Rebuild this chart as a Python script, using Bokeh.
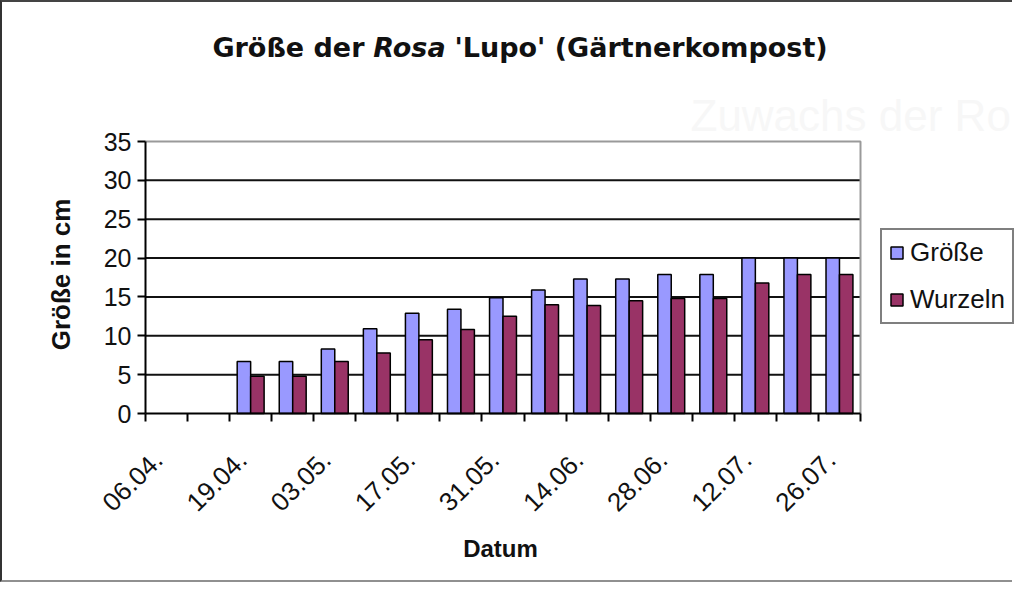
import math
from bokeh.plotting import figure
from bokeh.models import (ColumnDataSource, Range1d, FixedTicker, Label, Legend, LegendItem)
from bokeh.embed import file_html
from bokeh.resources import INLINE

# ---- data ----
dates = ["06.04.", "12.04.", "19.04.", "26.04.", "03.05.", "10.05.", "17.05.", "24.05.", "31.05.",
         "07.06.", "14.06.", "21.06.", "28.06.", "05.07.", "12.07.", "19.07.", "26.07."]
groesse = [None, None, 6.7, 6.7, 8.3, 10.9, 12.9, 13.4, 14.9, 15.9, 17.3, 17.3, 17.9, 17.9, 20, 20, 20]
wurzeln = [None, None, 4.8, 4.8, 6.7, 7.8, 9.5, 10.8, 12.5, 14.0, 13.9, 14.5, 14.8, 14.8, 16.8, 17.9, 17.9]
series_names = ["Größe", "Wurzeln"]
series_colors = ["#9999FF", "#993366"]
y_ticks = [0, 5, 10, 15, 20, 25, 30, 35]

# ---- layout (canvas px) ----
U = 10                       # data units per category
NX = U * len(dates)          # x extent of the plot area
YMAX = 35
W, H = 1012, 582
AX_L, AX_R, AX_T, AX_B = 143, 858, 139, 411   # plot area in canvas px

kx = (AX_R - AX_L) / NX
ky = (AX_B - AX_T) / YMAX

p = figure(width=W, height=H, output_backend="svg", toolbar_location=None,
           x_range=Range1d(-AX_L / kx, NX + (W - AX_R) / kx),
           y_range=Range1d(-(H - AX_B) / ky, YMAX + AX_T / ky),
           min_border=0, background_fill_color="white", border_fill_color="white")
p.styles = {"border-left": "2px solid #333333", "border-top": "2px solid #444444",
            "border-bottom": "2px solid #909090"}
p.outline_line_color = None
p.xgrid.grid_line_color = None
p.ygrid.grid_line_color = None

# gridlines and plot-area border
grid_y = y_ticks[1:-1]
p.multi_line(xs=[[0, NX] for _ in grid_y], ys=[[g, g] for g in grid_y],
             line_color="#111111", line_width=2)
p.line(x=[0, NX, NX], y=[YMAX, YMAX, 0], line_color="#9a9a9a", line_width=2)

renderers = []
for name, vals, col, off in [(series_names[0], groesse, series_colors[0], -1.6),
                             (series_names[1], wurzeln, series_colors[1], 1.6)]:
    xs, tops = [], []
    for i, v in enumerate(vals):
        if v is not None:
            xs.append(i * U + U / 2 + off)
            tops.append(v)
    src = ColumnDataSource(dict(x=xs, top=tops))
    r = p.vbar(x="x", top="top", bottom=0, width=3.2, source=src, fill_color=col,
               line_color="black", line_width=1.5)
    renderers.append((name, r))

# y axis (drawn at x = 0)
ya = p.yaxis[0]
ya.fixed_location = 0
ya.ticker = FixedTicker(ticks=y_ticks)
ya.bounds = (0, YMAX)
ya.axis_line_width = 2
ya.major_tick_out = 8
ya.major_tick_in = 0
ya.major_tick_line_width = 2
ya.minor_tick_line_color = None
ya.major_label_text_font = "Liberation Sans"
ya.major_label_text_font_size = "25px"
ya.major_label_text_color = "#111111"
ya.major_label_standoff = 6

# x axis (drawn at y = 0)
label_ticks = [i * U + 3 for i in range(0, len(dates), 2)]
xa = p.xaxis[0]
xa.fixed_location = 0
xa.ticker = FixedTicker(ticks=label_ticks, minor_ticks=[i * U for i in range(len(dates) + 1)])
xa.bounds = (0, NX)
xa.major_label_overrides = {i * U + 3: dates[i] for i in range(0, len(dates), 2)}
xa.axis_line_width = 2
xa.major_tick_line_color = None
xa.major_tick_out = 8
xa.major_tick_in = 0
xa.minor_tick_out = 8
xa.minor_tick_in = 0
xa.minor_tick_line_width = 2
xa.minor_tick_line_color = "black"
xa.major_label_orientation = math.pi / 4
xa.major_label_text_font = "Liberation Sans"
xa.major_label_text_font_size = "26px"
xa.major_label_text_color = "#111111"
xa.major_label_standoff = 34


def lab(x, y, text, **kw):
    # x, y in canvas px from the top-left corner
    opts = dict(text_color="#111111", text_baseline="middle", text_align="center")
    opts.update(kw)
    p.add_layout(Label(x=x, y=H - y, x_units="screen", y_units="screen", text=text, **opts))


# faint watermark text (only its visible part)
lab(688, 113, "Zuwachs der Ro", text_font="Liberation Sans", text_font_size="44px",
    text_align="left", text_color="#f7f7f7")
# title in three parts (italic "Rosa")
tfont = "DejaVu Sans"
lab(362, 45, "Größe der", text_font=tfont, text_font_style="bold", text_font_size="27px",
    text_align="right")
lab(407, 45, "Rosa", text_font=tfont, text_font_style="bold italic", text_font_size="27px")
lab(452, 45, "'Lupo' (Gärtnerkompost)", text_font=tfont, text_font_style="bold",
    text_font_size="27px", text_align="left")
# axis titles
lab(58, 272, "Größe in cm", text_font="Liberation Sans", text_font_style="bold",
    text_font_size="26px", angle=math.pi / 2)
lab(498, 546, "Datum", text_font="Liberation Sans", text_font_style="bold",
    text_font_size="24px")

legend = Legend(items=[LegendItem(label=n, renderers=[r]) for n, r in renderers],
                location=(878, H - 322), orientation="vertical")
legend.label_text_font = "Liberation Sans"
legend.label_text_font_size = "26px"
legend.label_text_color = "#111111"
legend.glyph_width = 15
legend.glyph_height = 15
legend.label_height = 30
legend.label_standoff = 6
legend.spacing = 16
legend.padding = 7
legend.margin = 0
legend.border_line_color = "black"
legend.border_line_width = 2
legend.background_fill_color = "white"
legend.background_fill_alpha = 1
p.add_layout(legend)

open("out.html", "w").write(file_html(p, INLINE))
